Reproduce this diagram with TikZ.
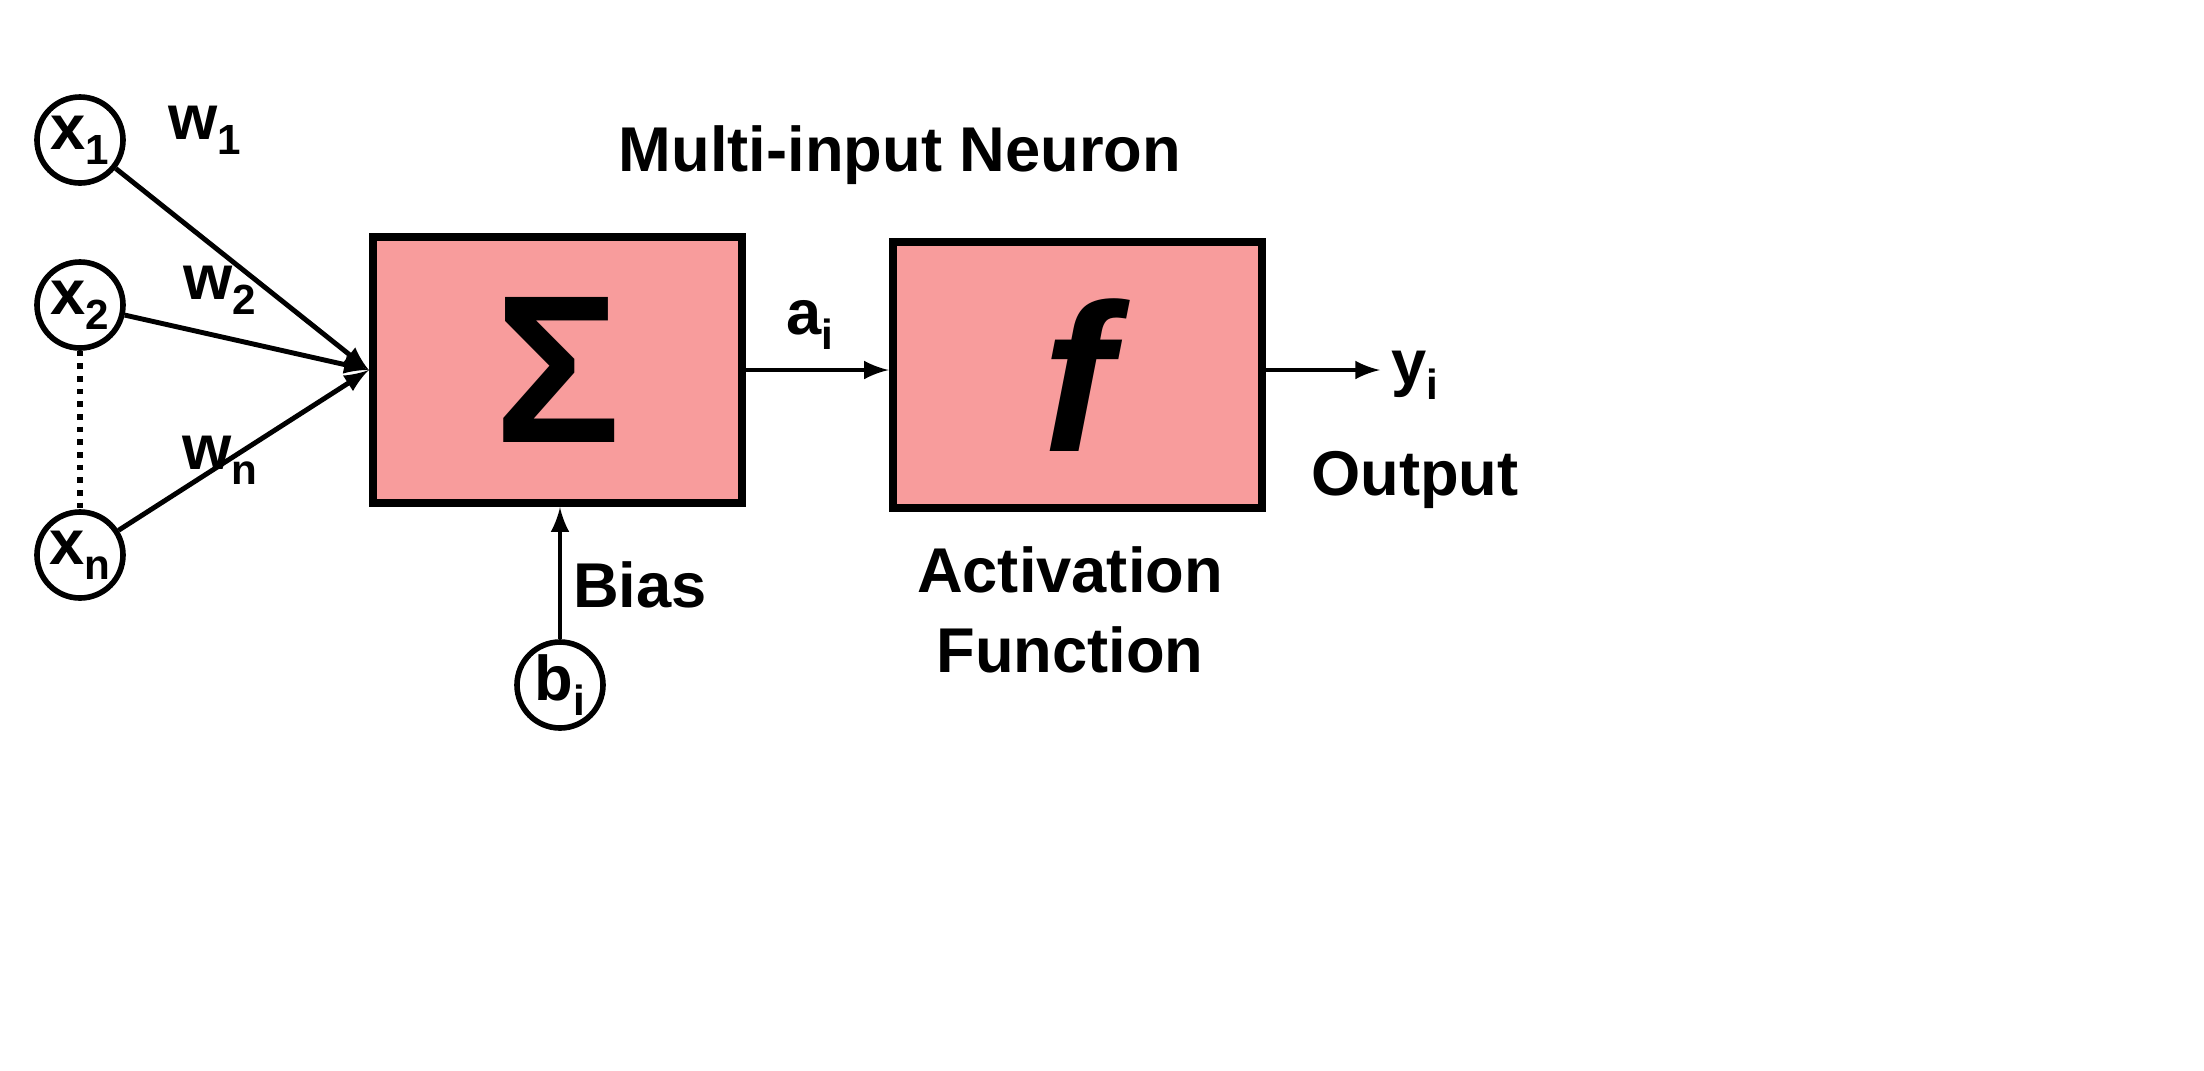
\documentclass[tikz,border=0pt]{standalone}
\usepackage{fontspec}
\setmainfont{Liberation Sans}
\usetikzlibrary{positioning}
\definecolor{boxpink}{HTML}{F89C9C}
\newcommand{\lowsub}[1]{\raisebox{-0.45ex}{\fontsize{12}{12}\selectfont #1}}
\tikzset{
  inp/.style={draw,circle,line width=1.6pt,minimum size=0.86cm,inner sep=0pt},
  blk/.style={draw,line width=2.4pt,fill=boxpink,minimum width=3.69cm,minimum height=2.66cm},
  lbl/.style={font=\fontsize{18}{20}\selectfont\bfseries},
  con/.style={line width=1.4pt,-latex}
}
\begin{document}
\begin{tikzpicture}[y=-1cm]
        \useasboundingbox (0,0) rectangle (22.04,10.70);
        % inputs
        \node[inp,lbl] (x1) at (0.8,1.4) {x\lowsub{1}};
        \node[inp,lbl] (x2) at (0.8,3.05) {x\lowsub{2}};
        \node[inp,lbl] (xn) at (0.8,5.55) {x\lowsub{n}};
        \node[inp,lbl] (b) at (5.6,6.85) {b\lowsub{i}};
        % blocks
        \node[blk] (sum) at (5.575,3.7) {\fontsize{60}{60}\selectfont\bfseries Σ};
        \node[blk] (act) at (10.775,3.75) {\fontsize{60}{60}\selectfont\bfseries\itshape f};
        \coordinate (join) at (sum.west);
        \coordinate (out) at (13.8,3.7);
        % connectors
        \draw[con] (x1) -- (join);
        \draw[con] (x2) -- (join);
        \draw[con] (xn) -- (join);
        \draw[line width=1.6pt,dotted] (x2) -- (xn);
        \draw[con] (b) -- (b |- sum.south);
        \draw[con] (sum.east |- out) -- (act.west |- out);
        \draw[con] (act.east |- out) -- (out);
        % labels
        \node[lbl] at (2.05,1.3) {w\lowsub{1}};
        \node[lbl] at (2.2,2.9) {w\lowsub{2}};
        \node[lbl] at (2.2,4.6) {w\lowsub{n}};
        \node[lbl] at (9.0,1.55) {Multi-input Neuron};
        \node[lbl] at (8.1,3.25) {a\lowsub{i}};
        \node[lbl] at (14.15,3.75) {y\lowsub{i}};
        \node[lbl] at (14.15,4.8) {Output};
        \node[lbl] at (6.4,5.85) {Bias};
        \node[lbl] at (10.7,5.7) {Activation};
        \node[lbl] at (10.7,6.5) {Function};
\end{tikzpicture}
\end{document}
